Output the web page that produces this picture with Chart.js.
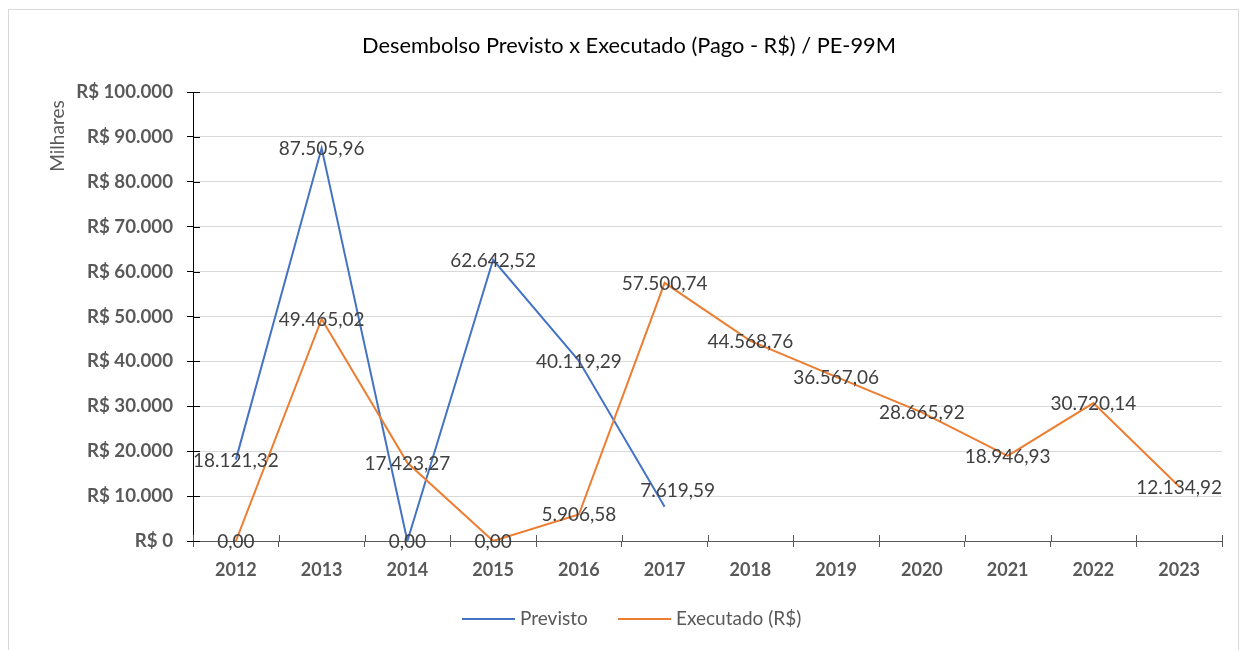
<!DOCTYPE html>
<html>
<head>
<meta charset="utf-8">
<script src="https://cdn.jsdelivr.net/npm/chart.js@4.4.1/dist/chart.umd.min.js"></script>
<style>
  html, body { margin: 0; padding: 0; background: #fff; }
  #wrap { position: relative; width: 1241px; height: 650px; overflow: hidden; }
  #frame { position: absolute; left: 8px; top: 9px; width: 1231px; height: 660px; border: 1px solid #D9D9D9; box-sizing: border-box; }
  canvas { position: absolute; left: 0; top: 0; }
</style>
</head>
<body>
<div id="wrap">
  <div id="frame"></div>
  <canvas id="c" width="1241" height="650"></canvas>
</div>
<script>
const chartTitle = 'Desembolso Previsto x Executado (Pago - R$) / PE-99M';
const axisTitle = 'Milhares';
const categories = ['2012','2013','2014','2015','2016','2017','2018','2019','2020','2021','2022','2023'];
const previsto = [18121.32, 87505.96, 0, 62642.52, 40119.29, 7619.59, null, null, null, null, null, null];
const executado = [0, 49465.02, 17423.27, 0, 5906.58, 57500.74, 44568.76, 36567.06, 28665.92, 18946.93, 30720.14, 12134.92];
const seriesNames = ['Previsto', 'Executado (R$)'];
const yTicks = [0, 10000, 20000, 30000, 40000, 50000, 60000, 70000, 80000, 90000, 100000];

const BLUE = '#4472C4', ORANGE = '#ED7D31';
const FONT = 'Lato, Carlito, "Open Sans", sans-serif';

function thousands(n) {
  return String(Math.round(n)).replace(/\B(?=(\d{3})+(?!\d))/g, '.');
}
function fmtBR(v) {
  const neg = v < 0; v = Math.abs(v);
  const intPart = Math.floor(v + 1e-9);
  let dec = Math.round((v - intPart) * 100);
  let ip = intPart;
  if (dec === 100) { ip += 1; dec = 0; }
  return (neg ? '-' : '') + thousands(ip) + ',' + String(dec).padStart(2, '0');
}

// label offsets for points whose label Excel placed off-centre (dataset index, point index)
const labelShift = { '0-5': [13, -17] };

const decorPlugin = {
  id: 'decor',
  afterDatasetsDraw(chart) {
    const ctx = chart.ctx;
    const xs = chart.scales.x, ys = chart.scales.y;
    const area = chart.chartArea;
    ctx.save();
    // inner halves of crossing tick marks on x axis
    ctx.strokeStyle = '#595959';
    ctx.lineWidth = 1;
    const half = (xs.getPixelForValue(1) - xs.getPixelForValue(0)) / 2;
    for (let i = 0; i <= categories.length; i++) {
      const px = Math.round(xs.getPixelForValue(i) - half) + 0.5;
      ctx.beginPath(); ctx.moveTo(px, area.bottom - 6); ctx.lineTo(px, area.bottom); ctx.stroke();
    }
    // inner halves of y tick marks
    ctx.strokeStyle = '#000';
    yTicks.forEach(v => {
      const py = Math.round(ys.getPixelForValue(v)) + 0.5;
      ctx.beginPath(); ctx.moveTo(area.left, py); ctx.lineTo(area.left + 7, py); ctx.stroke();
    });
    // data labels
    ctx.font = '19px ' + FONT;
    ctx.fillStyle = '#404040';
    ctx.textAlign = 'center';
    ctx.textBaseline = 'alphabetic';
    chart.data.datasets.forEach((ds, di) => {
      const meta = chart.getDatasetMeta(di);
      meta.data.forEach((pt, i) => {
        const v = ds.data[i];
        if (v === null || v === undefined) return;
        const sh = labelShift[di + '-' + i] || [0, 0];
        ctx.fillText(fmtBR(v), pt.x + sh[0], pt.y + 7 + sh[1]);
      });
    });
    ctx.restore();
  },
  afterDraw(chart) {
    const ctx = chart.ctx;
    ctx.save();
    // title
    ctx.font = '21.8px ' + FONT;
    ctx.fillStyle = '#000';
    ctx.textAlign = 'center';
    ctx.textBaseline = 'middle';
    ctx.fillText(chartTitle, 629, 46);
    // axis title
    ctx.save();
    ctx.translate(58, 136);
    ctx.rotate(-Math.PI / 2);
    ctx.font = '19px ' + FONT;
    ctx.fillStyle = '#595959';
    ctx.fillText(axisTitle, 0, 0);
    ctx.restore();
    // legend
    ctx.font = '19px ' + FONT;
    ctx.fillStyle = '#595959';
    ctx.textAlign = 'left';
    ctx.lineWidth = 2;
    const items = [[462, BLUE, seriesNames[0]], [618, ORANGE, seriesNames[1]]];
    items.forEach(([x, col, name]) => {
      ctx.strokeStyle = col;
      ctx.beginPath(); ctx.moveTo(x, 619); ctx.lineTo(x + 53, 619); ctx.stroke();
      ctx.fillText(name, x + 58, 619);
    });
    ctx.restore();
  }
};

new Chart(document.getElementById('c'), {
  type: 'line',
  data: {
    labels: categories,
    datasets: [
      { label: seriesNames[0], data: previsto, borderColor: BLUE, backgroundColor: BLUE, borderWidth: 2, pointRadius: 0, tension: 0, order: 2, spanGaps: false },
      { label: seriesNames[1], data: executado, borderColor: ORANGE, backgroundColor: ORANGE, borderWidth: 2, pointRadius: 0, tension: 0, order: 1 }
    ]
  },
  options: {
    responsive: false,
    animation: false,
    devicePixelRatio: 1,
    layout: { padding: { top: 92, right: 19, left: 0, bottom: 0 } },
    plugins: { legend: { display: false }, title: { display: false }, tooltip: { enabled: false } },
    scales: {
      x: {
        offset: true,
        grid: { display: true, offset: true, drawOnChartArea: false, drawTicks: true, tickLength: 6, color: '#595959' },
        border: { display: true, color: '#595959', width: 1 },
        ticks: { color: '#595959', font: { family: FONT, size: 18, weight: 'bold' }, padding: 12, maxRotation: 0, autoSkip: false },
        afterFit(s) { s.height = 109; }
      },
      y: {
        min: 0, max: 100000,
        afterBuildTicks(s) { s.ticks = yTicks.map(v => ({ value: v })); },
        grid: { color: '#D9D9D9', tickColor: '#000', tickLength: 6, lineWidth: 1 },
        border: { display: true, color: '#000', width: 1 },
        ticks: { color: '#595959', font: { family: FONT, size: 18.7, weight: 'bold' }, padding: 14,
          callback: v => 'R$ ' + thousands(v) },
        afterFit(s) { s.width = 193; }
      }
    }
  },
  plugins: [decorPlugin]
});
</script>
</body>
</html>
